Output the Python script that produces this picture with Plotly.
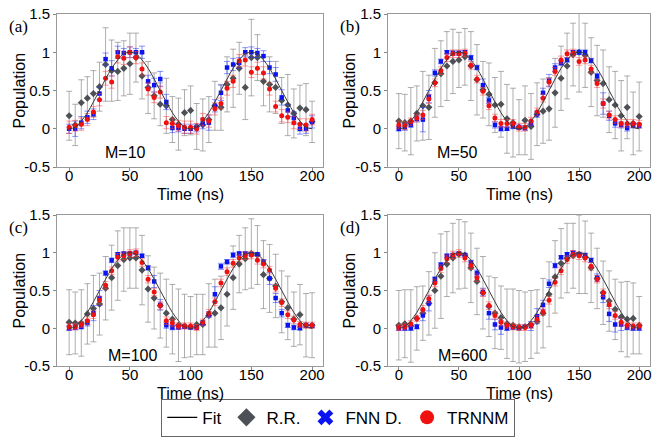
import plotly.graph_objects as go

t = [0, 5, 10, 15, 20, 25, 30, 35, 40, 45, 50, 55, 60, 65, 70, 75, 80, 85, 90, 95, 100,
     105, 110, 115, 120, 125, 130, 135, 140, 145, 150, 155, 160, 165, 170, 175, 180, 185, 190, 195, 200]

fit = [0.0, 0.02, 0.1, 0.21, 0.35, 0.5, 0.65, 0.79, 0.9, 0.98, 1.0, 0.98, 0.9, 0.79, 0.65, 0.5, 0.35, 0.21, 0.1, 0.02, 0.0,
       0.02, 0.1, 0.21, 0.35, 0.5, 0.65, 0.79, 0.9, 0.98, 1.0, 0.98, 0.9, 0.79, 0.65, 0.5, 0.35, 0.21, 0.1, 0.02, 0.0]

# Panel (a) M=10
rr_a = [0.17, 0.05, 0.34, 0.40, 0.46, 0.55, 0.84, 0.76, 0.75, 0.79, 0.85, 0.93, 0.69, 0.54, 0.43, 0.32, 0.30, 0.12, 0.06, 0.21, 0.24,
        0.03, 0.05, 0.12, 0.30, 0.28, 0.58, 0.66, 0.79, 0.54, 0.93, 0.93, 0.62, 0.58, 0.54, 0.37, 0.31, 0.20, 0.27, 0.25, 0.09]
fnn_a = [0.0, 0.0, 0.08, 0.15, 0.19, 0.46, 0.91, 0.79, 1.0, 0.99, 1.0, 1.0, 1.0, 0.62, 0.57, 0.65, 0.35, 0.01, 0.01, 0.0, 0.0,
         0.01, 0.07, 0.08, 0.30, 0.47, 0.80, 0.84, 0.86, 1.0, 1.0, 0.99, 0.95, 0.80, 0.71, 0.41, 0.24, 0.14, 0.0, 0.0, 0.09]
trn_a = [0.02, 0.04, 0.06, 0.12, 0.22, 0.38, 0.66, 0.61, 0.94, 0.92, 1.0, 0.93, 0.78, 0.52, 0.41, 0.48, 0.08, 0.07, 0.04, 0.02, 0.02,
         0.0, 0.12, 0.10, 0.26, 0.33, 0.53, 0.62, 0.89, 0.90, 0.74, 0.79, 0.73, 0.52, 0.29, 0.17, 0.15, 0.08, 0.06, 0.05, 0.12]
rr_err_a = [0.32, 0.27, 0.30, 0.28, 0.30, 0.32, 0.48, 0.40, 0.38, 0.36, 0.40, 0.32, 0.30, 0.34, 0.30, 0.28, 0.36, 0.30, 0.34, 0.30, 0.32,
            0.30, 0.34, 0.30, 0.32, 0.30, 0.36, 0.38, 0.34, 0.42, 0.50, 0.30, 0.32, 0.36, 0.34, 0.30, 0.40, 0.32, 0.30, 0.34, 0.27]
fnn_err_a = [0.06, 0.10, 0.08, 0.08, 0.07, 0.08, 0.08, 0.10, 0.08, 0.06, 0.07, 0.05, 0.08, 0.08, 0.09, 0.10, 0.10, 0.06, 0.05, 0.06, 0.06,
             0.05, 0.07, 0.10, 0.08, 0.10, 0.08, 0.08, 0.07, 0.06, 0.07, 0.06, 0.07, 0.08, 0.09, 0.10, 0.08, 0.08, 0.07, 0.06, 0.08]
trn_err_a = [0.08, 0.07, 0.08, 0.08, 0.07, 0.08, 0.09, 0.08, 0.08, 0.08, 0.07, 0.08, 0.08, 0.08, 0.07, 0.08, 0.08, 0.07, 0.07, 0.08, 0.08,
             0.07, 0.08, 0.08, 0.08, 0.07, 0.09, 0.08, 0.08, 0.08, 0.07, 0.08, 0.08, 0.08, 0.07, 0.08, 0.07, 0.08, 0.07, 0.08, 0.07]

# Panel (b) M=50
rr_b = [0.10, 0.08, 0.10, 0.20, 0.30, 0.28, 0.60, 0.72, 0.82, 0.88, 0.90, 0.94, 0.82, 0.64, 0.51, 0.45, 0.31, 0.32, 0.13, 0.08, 0.02,
        0.11, 0.03, 0.19, 0.23, 0.26, 0.47, 0.66, 0.82, 0.97, 1.0, 0.96, 0.74, 0.63, 0.59, 0.38, 0.31, 0.17, 0.28, 0.07, 0.16]
fnn_b = [0.0, 0.02, 0.05, 0.13, 0.12, 0.42, 0.73, 0.88, 1.0, 0.99, 0.99, 1.0, 0.93, 0.80, 0.57, 0.37, 0.05, 0.0, 0.0, 0.03, 0.02,
         0.01, 0.07, 0.19, 0.47, 0.63, 0.80, 0.86, 0.90, 1.0, 1.0, 1.0, 0.89, 0.69, 0.33, 0.17, 0.07, 0.05, 0.01, 0.04, 0.04]
trn_b = [0.05, 0.04, 0.09, 0.14, 0.18, 0.39, 0.60, 0.76, 0.93, 0.98, 0.98, 0.99, 0.83, 0.65, 0.49, 0.30, 0.14, 0.07, 0.07, 0.07, 0.02,
         0.02, 0.10, 0.22, 0.40, 0.61, 0.75, 0.90, 0.98, 0.99, 0.88, 0.90, 0.78, 0.59, 0.33, 0.18, 0.12, 0.07, 0.07, 0.07, 0.06]
rr_err_b = [0.36, 0.37, 0.44, 0.36, 0.45, 0.42, 0.45, 0.43, 0.45, 0.42, 0.36, 0.37, 0.45, 0.46, 0.37, 0.41, 0.36, 0.43, 0.45, 0.45, 0.36,
            0.45, 0.43, 0.41, 0.42, 0.41, 0.45, 0.42, 0.43, 0.41, 0.52, 0.42, 0.45, 0.46, 0.44, 0.43, 0.44, 0.46, 0.41, 0.41, 0.45]
fnn_err_b = [0.03, 0.04, 0.03, 0.04, 0.16, 0.08, 0.04, 0.03, 0.02, 0.03, 0.03, 0.02, 0.03, 0.03, 0.08, 0.04, 0.04, 0.03, 0.02, 0.03, 0.03,
             0.03, 0.03, 0.04, 0.06, 0.08, 0.05, 0.03, 0.03, 0.02, 0.03, 0.03, 0.03, 0.03, 0.14, 0.06, 0.05, 0.04, 0.04, 0.03, 0.03]
trn_err_b = [0.05, 0.05, 0.05, 0.05, 0.06, 0.06, 0.05, 0.05, 0.05, 0.05, 0.05, 0.05, 0.05, 0.05, 0.05, 0.05, 0.05, 0.05, 0.05, 0.05, 0.05,
             0.05, 0.05, 0.05, 0.05, 0.05, 0.05, 0.05, 0.05, 0.05, 0.05, 0.05, 0.05, 0.05, 0.06, 0.05, 0.05, 0.05, 0.05, 0.05, 0.05]

# Panel (c) M=100
rr_c = [0.08, 0.07, 0.07, 0.19, 0.26, 0.32, 0.53, 0.67, 0.83, 0.91, 0.93, 0.93, 0.77, 0.52, 0.40, 0.30, 0.20, 0.12, 0.04, 0.03, 0.02,
        0.05, 0.05, 0.17, 0.20, 0.27, 0.45, 0.67, 0.85, 0.92, 0.99, 0.97, 0.71, 0.66, 0.56, 0.35, 0.27, 0.12, 0.18, 0.04, 0.04]
fnn_c = [0.0, 0.01, 0.02, 0.07, 0.20, 0.40, 0.73, 0.90, 0.98, 0.99, 0.99, 1.0, 0.96, 0.80, 0.62, 0.31, 0.04, 0.01, 0.01, 0.02, 0.01,
         0.01, 0.07, 0.18, 0.45, 0.82, 0.88, 0.97, 0.99, 0.99, 0.98, 0.98, 0.88, 0.66, 0.40, 0.20, 0.04, 0.01, 0.0, 0.04, 0.03]
trn_c = [0.02, 0.02, 0.05, 0.10, 0.18, 0.37, 0.57, 0.76, 0.94, 0.96, 0.99, 1.0, 0.87, 0.65, 0.48, 0.30, 0.10, 0.07, 0.03, 0.03, 0.03,
         0.01, 0.08, 0.20, 0.35, 0.60, 0.75, 0.86, 0.93, 0.96, 0.97, 0.90, 0.85, 0.77, 0.53, 0.34, 0.18, 0.11, 0.05, 0.04, 0.04]
rr_err_c = [0.43, 0.41, 0.44, 0.40, 0.44, 0.41, 0.42, 0.43, 0.46, 0.42, 0.40, 0.40, 0.46, 0.44, 0.41, 0.43, 0.45, 0.46, 0.48, 0.42, 0.40,
            0.40, 0.40, 0.42, 0.45, 0.42, 0.42, 0.42, 0.38, 0.41, 0.46, 0.39, 0.45, 0.45, 0.42, 0.41, 0.42, 0.36, 0.40, 0.42, 0.43]
fnn_err_c = [0.03, 0.03, 0.03, 0.04, 0.10, 0.10, 0.03, 0.03, 0.02, 0.02, 0.02, 0.02, 0.02, 0.03, 0.08, 0.07, 0.04, 0.03, 0.02, 0.02, 0.02,
             0.02, 0.03, 0.04, 0.10, 0.04, 0.03, 0.03, 0.02, 0.02, 0.02, 0.02, 0.03, 0.08, 0.06, 0.05, 0.03, 0.03, 0.02, 0.03, 0.02]
trn_err_c = [0.04, 0.04, 0.04, 0.05, 0.05, 0.05, 0.05, 0.05, 0.05, 0.05, 0.05, 0.05, 0.05, 0.05, 0.05, 0.05, 0.05, 0.05, 0.04, 0.04, 0.04,
             0.04, 0.04, 0.05, 0.05, 0.05, 0.05, 0.05, 0.05, 0.05, 0.05, 0.05, 0.05, 0.05, 0.05, 0.05, 0.05, 0.05, 0.04, 0.04, 0.04]

# Panel (d) M=600
rr_d = [0.04, 0.06, 0.03, 0.13, 0.20, 0.33, 0.50, 0.69, 0.85, 0.93, 0.98, 0.97, 0.80, 0.62, 0.47, 0.29, 0.20, 0.14, 0.06, 0.04, 0.02,
        0.02, 0.05, 0.09, 0.20, 0.45, 0.68, 0.86, 0.93, 0.96, 0.98, 0.94, 0.80, 0.66, 0.47, 0.36, 0.25, 0.15, 0.12, 0.13, 0.04]
fnn_d = [0.0, 0.0, 0.0, 0.02, 0.17, 0.33, 0.65, 0.84, 0.96, 0.97, 0.99, 0.97, 0.87, 0.73, 0.48, 0.20, 0.05, 0.01, 0.0, 0.01, 0.0,
         0.02, 0.03, 0.16, 0.31, 0.59, 0.83, 0.94, 0.98, 1.0, 0.98, 0.97, 0.90, 0.67, 0.41, 0.19, 0.05, 0.05, 0.01, 0.0, 0.0]
trn_d = [0.01, 0.02, 0.06, 0.13, 0.25, 0.39, 0.60, 0.79, 0.92, 0.97, 0.99, 0.93, 0.83, 0.67, 0.47, 0.30, 0.17, 0.08, 0.04, 0.02, 0.01,
         0.01, 0.04, 0.12, 0.22, 0.37, 0.61, 0.76, 0.91, 0.98, 0.96, 0.93, 0.82, 0.65, 0.47, 0.31, 0.17, 0.08, 0.04, 0.03, 0.03]
rr_err_d = [0.46, 0.45, 0.48, 0.42, 0.36, 0.42, 0.50, 0.56, 0.43, 0.46, 0.46, 0.44, 0.46, 0.44, 0.48, 0.40, 0.47, 0.42, 0.46, 0.48, 0.48,
            0.46, 0.45, 0.42, 0.46, 0.43, 0.48, 0.46, 0.46, 0.43, 0.52, 0.48, 0.46, 0.40, 0.42, 0.40, 0.40, 0.46, 0.50, 0.47, 0.38]
fnn_err_d = [0.03, 0.03, 0.03, 0.03, 0.07, 0.10, 0.03, 0.03, 0.02, 0.02, 0.02, 0.02, 0.03, 0.04, 0.05, 0.08, 0.07, 0.09, 0.03, 0.02, 0.02,
             0.02, 0.06, 0.10, 0.06, 0.05, 0.03, 0.02, 0.02, 0.02, 0.02, 0.02, 0.03, 0.05, 0.07, 0.10, 0.10, 0.08, 0.03, 0.03, 0.03]
trn_err_d = [0.04, 0.04, 0.04, 0.04, 0.05, 0.05, 0.05, 0.05, 0.05, 0.05, 0.05, 0.05, 0.05, 0.05, 0.05, 0.05, 0.05, 0.05, 0.04, 0.04, 0.04,
             0.04, 0.04, 0.05, 0.05, 0.05, 0.05, 0.05, 0.05, 0.05, 0.05, 0.05, 0.05, 0.05, 0.05, 0.05, 0.05, 0.05, 0.04, 0.04, 0.04]

panel_labels = ["(a)", "(b)", "(c)", "(d)"]
m_labels = ["M=10", "M=50", "M=100", "M=600"]
m_label_x = [46, 49, 52, 53]
m_label_y = [-0.31, -0.31, -0.36, -0.36]
series_names = ["Fit", "R.R.", "FNN D.", "TRNNM"]
x_title = "Time (ns)"
y_title = "Population"

panels = [
    (rr_a, fnn_a, trn_a, rr_err_a, fnn_err_a, trn_err_a),
    (rr_b, fnn_b, trn_b, rr_err_b, fnn_err_b, trn_err_b),
    (rr_c, fnn_c, trn_c, rr_err_c, fnn_err_c, trn_err_c),
    (rr_d, fnn_d, trn_d, rr_err_d, fnn_err_d, trn_err_d),
]

W, H = 653, 439
boxes = [  # left, right, top, bottom in pixels
    (57, 323, 14, 167),
    (388, 650, 14, 167),
    (57, 323, 215, 366),
    (388, 650, 215, 366),
]
xtitle_y = [194, 194, 393, 393]
ytitle_x = [19, 349, 19, 349]
xranges = [[-10, 209], [-9, 209], [-10, 209], [-9, 209]]

FONT = "Liberation Sans, Arial, sans-serif"
fig = go.Figure()

for i, (rr, fnn, trn, rre, fnne, trne) in enumerate(panels):
    xa = "x" if i == 0 else f"x{i+1}"
    ya = "y" if i == 0 else f"y{i+1}"
    fig.add_trace(go.Scatter(
        x=t, y=rr, mode="markers", name=series_names[1], showlegend=False,
        xaxis=xa, yaxis=ya,
        marker=dict(symbol="diamond", size=5.5, color="#4d5054"),
        error_y=dict(type="data", array=rre, visible=True, color="rgba(140,140,140,0.7)", thickness=1, width=3),
    ))
    fig.add_trace(go.Scatter(
        x=t, y=fnn, mode="markers", name=series_names[2], showlegend=False,
        xaxis=xa, yaxis=ya,
        marker=dict(symbol="square", size=4.5, color="#0a14f0"),
        error_y=dict(type="data", array=fnne, visible=True, color="rgba(40,60,255,0.55)", thickness=1, width=3),
    ))
    fig.add_trace(go.Scatter(
        x=t, y=trn, mode="markers", name=series_names[3], showlegend=False,
        xaxis=xa, yaxis=ya,
        marker=dict(symbol="circle", size=5, color="#f01010"),
        error_y=dict(type="data", array=trne, visible=True, color="rgba(255,60,60,0.5)", thickness=1, width=3),
    ))
    fig.add_trace(go.Scatter(
        x=t, y=fit, mode="lines", name=series_names[0], showlegend=False,
        xaxis=xa, yaxis=ya, line=dict(color="#3a3a3a", width=1, shape="spline"),
    ))

# legend-only traces
fig.add_trace(go.Scatter(x=[None], y=[None], mode="lines", name="Fit",
                         line=dict(color="black", width=1.2)))
fig.add_trace(go.Scatter(x=[None], y=[None], mode="markers", name="R.R.",
                         marker=dict(symbol="diamond", size=14, color="#4d5054")))
fig.add_trace(go.Scatter(x=[None], y=[None], mode="markers", name="FNN D.",
                         marker=dict(symbol="x", size=14, color="#0a14f0")))
fig.add_trace(go.Scatter(x=[None], y=[None], mode="markers", name="TRNNM",
                         marker=dict(symbol="circle", size=14, color="#f01010")))

layout = dict(
    width=W, height=H,
    margin=dict(l=0, r=0, t=0, b=0, autoexpand=False),
    paper_bgcolor="white", plot_bgcolor="white",
    font=dict(family=FONT, size=14, color="black"),
    showlegend=True,
    legend=dict(orientation="h", x=0.518, xanchor="center", y=0.005, yanchor="bottom",
                bordercolor="#666", borderwidth=1, font=dict(size=17, family=FONT),
                itemwidth=30, tracegroupgap=0, bgcolor="white"),
)
annotations = []
for i, (l, r, tp, b) in enumerate(boxes):
    xk = "xaxis" if i == 0 else f"xaxis{i+1}"
    yk = "yaxis" if i == 0 else f"yaxis{i+1}"
    anchor_x = "y" if i == 0 else f"y{i+1}"
    anchor_y = "x" if i == 0 else f"x{i+1}"
    layout[xk] = dict(
        domain=[l / W, r / W], anchor=anchor_x, range=xranges[i], automargin=False,
        tickvals=[0, 50, 100, 150, 200], ticks="outside", ticklen=3, tickcolor="#888",
        ticklabelstandoff=-8,
        showline=True, linecolor="#999", mirror=True, showgrid=False, zeroline=False,
        tickfont=dict(size=15),
    )
    layout[yk] = dict(
        domain=[1 - b / H, 1 - tp / H], anchor=anchor_y, range=[-0.5, 1.5], automargin=False,
        tickvals=[-0.5, 0, 0.5, 1, 1.5], ticktext=["-0.5", "0", "0.5", "1", "1.5"],
        ticks="outside", ticklen=3, tickcolor="#888",
        showline=True, linecolor="#999", mirror=True, showgrid=False, zeroline=False,
        tickfont=dict(size=15),
    )
    xref = "x" if i == 0 else f"x{i+1}"
    yref = "y" if i == 0 else f"y{i+1}"
    annotations.append(dict(text=m_labels[i], x=m_label_x[i], y=m_label_y[i], xref=xref, yref=yref,
                            showarrow=False, font=dict(size=16, family=FONT), xanchor="center"))
    annotations.append(dict(text=panel_labels[i], x=(l - 50) / W, y=1 - (tp + 12) / H,
                            xref="paper", yref="paper", showarrow=False,
                            font=dict(size=17, family="Liberation Serif, Times New Roman, serif"),
                            xanchor="left", yanchor="middle"))
    annotations.append(dict(text=x_title, x=(l + r) / 2 / W, y=1 - xtitle_y[i] / H,
                            xref="paper", yref="paper", showarrow=False,
                            font=dict(size=16, family=FONT), xanchor="center", yanchor="middle"))
    annotations.append(dict(text=y_title, x=ytitle_x[i] / W, y=1 - (tp + b) / 2 / H,
                            xref="paper", yref="paper", showarrow=False, textangle=-90,
                            font=dict(size=16, family=FONT), xanchor="center", yanchor="middle"))
layout["annotations"] = annotations
fig.update_layout(**layout)

fig.write_html("out.html", config={"displayModeBar": False},
               post_script="document.body.style.margin='0';document.body.style.padding='0';")
